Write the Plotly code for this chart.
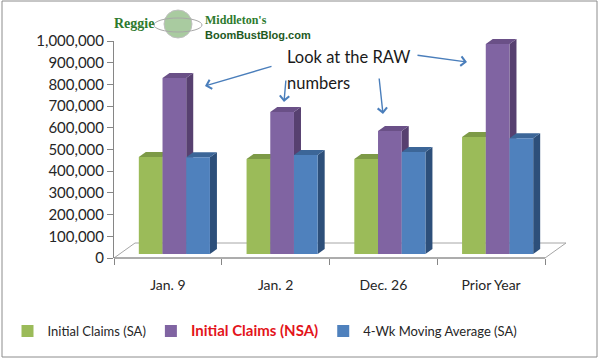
import plotly.graph_objects as go

# ---------------- data ----------------
categories = ["Jan. 9", "Jan. 2", "Dec. 26", "Prior Year"]
initial_sa = [441000, 432000, 432000, 532000]
initial_nsa = [800000, 645000, 559000, 955000]
moving_avg = [440000, 450000, 464000, 526000]
y_ticks = list(range(0, 1000001, 100000))

series_names = [
    "Initial Claims (SA)",
    "<b><span style='color:#E3141B;font-size:15px'>Initial Claims (NSA)</span></b>",
    "4-Wk Moving Average (SA)",
]
series_values = [initial_sa, initial_nsa, moving_avg]
front_colors = ["#9BBB59", "#8064A2", "#4F81BD"]
top_colors = ["#7D9A47", "#6A5087", "#3C6698"]
side_colors = ["#6E8A3A", "#574070", "#2D4F7A"]

W, H = 600, 361


def px(x):
    return x / W


def py(y):
    return 1 - y / H


# pixel geometry of the plot
X_LEFT, X_RIGHT = 114, 545          # category axis span
Y_ZERO, Y_TOP = 258, 41             # value axis labels (back wall)
BAR_ZERO, BAR_TOP = 254, 34         # front face scale
SHIFT = 6.5                         # perspective shift of bar fronts
DEPTH_X, DEPTH_Y = 7, 5             # 3-D depth in pixels

n = len(categories)
cat_px = (X_RIGHT - X_LEFT) / n
bar_w = 0.22
offsets = [-0.33 + k * bar_w for k in range(3)]
dxu = DEPTH_X / cat_px
dyu = DEPTH_Y / ((BAR_ZERO - BAR_TOP) / 1e6)

fig = go.Figure()

# empty trace so that the labelled axes (x / y) are drawn
fig.add_trace(go.Scatter(x=[], y=[], xaxis="x", yaxis="y", showlegend=False,
                         hoverinfo="skip", mode="markers"))

for k in range(3):
    fig.add_trace(go.Bar(
        x=list(range(n)), y=series_values[k], name=series_names[k],
        marker=dict(color=front_colors[k], line=dict(width=0)),
        width=bar_w, offset=offsets[k],
        xaxis="x2", yaxis="y2", hoverinfo="skip",
    ))

shapes = []
# floor
shapes.append(dict(
    type="path", xref="paper", yref="paper", layer="below",
    path=f"M{px(X_LEFT)},{py(Y_ZERO)} L{px(X_LEFT + 21)},{py(Y_ZERO - 15)} "
         f"L{px(X_RIGHT + 21)},{py(Y_ZERO - 15)} L{px(X_RIGHT)},{py(Y_ZERO)} Z",
    fillcolor="white", line=dict(color="#A6A6A6", width=1),
))
# 3-D faces derived from the data
for i in range(n):
    for k in range(3):
        v = series_values[k][i]
        x0 = i + offsets[k]
        x1 = x0 + bar_w
        shapes.append(dict(
            type="path", xref="x2", yref="y2", layer="below",
            path=f"M{x1},0 L{x1},{v} L{x1 + dxu},{v + dyu} L{x1 + dxu},{dyu} Z",
            fillcolor=side_colors[k], line=dict(width=0),
        ))
        shapes.append(dict(
            type="path", xref="x2", yref="y2", layer="below",
            path=f"M{x0},{v} L{x0 + dxu},{v + dyu} L{x1 + dxu},{v + dyu} L{x1},{v} Z",
            fillcolor=top_colors[k], line=dict(width=0),
        ))
# frame
shapes.append(dict(
    type="rect", xref="paper", yref="paper",
    x0=px(2), x1=px(597), y0=py(357), y1=py(1),
    line=dict(color="#8C8C8C", width=1), fillcolor="rgba(0,0,0,0)",
))
# logo globe
shapes.append(dict(
    type="circle", xref="paper", yref="paper",
    x0=px(164), x1=px(192), y0=py(38), y1=py(10),
    fillcolor="#A9CBA0", line=dict(color="#C0C0C0", width=1),
))
shapes.append(dict(
    type="circle", xref="paper", yref="paper",
    x0=px(154), x1=px(202), y0=py(32), y1=py(18),
    fillcolor="rgba(0,0,0,0)", line=dict(color="#A8A8A8", width=1),
))
# x axis base line (front floor edge)
shapes.append(dict(type="line", xref="paper", yref="paper", layer="below",
                   x0=px(X_LEFT), x1=px(X_RIGHT), y0=py(Y_ZERO), y1=py(Y_ZERO),
                   line=dict(color="#868686", width=1)))

annotations = []
# Callout text
annotations.append(dict(text="Look at the RAW", x=px(285), y=py(57), xref="paper", yref="paper",
                        xanchor="left", yanchor="middle", showarrow=False,
                        font=dict(family="Lato", size=16.5, color="#1A1A1A")))
annotations.append(dict(text="numbers", x=px(285), y=py(83), xref="paper", yref="paper",
                        xanchor="left", yanchor="middle", showarrow=False,
                        font=dict(family="Lato", size=16.5, color="#1A1A1A")))
# arrows (head, tail) in pixels
arrows = [((205, 86), (273, 66)), ((284, 102), (286, 79)),
          ((383, 114), (379, 77)), ((467, 62), (416, 55))]
for (hx, hy), (tx, ty) in arrows:
    annotations.append(dict(
        text="", x=px(hx), y=py(hy), xref="paper", yref="paper",
        ax=tx - hx, ay=ty - hy, showarrow=True, arrowhead=4, arrowsize=1.3,
        arrowwidth=1.4, arrowcolor="#4A7EBB",
    ))
# logo text
annotations.append(dict(text="<b>Reggie</b>", x=px(112), y=py(23), xref="paper", yref="paper",
                        xanchor="left", yanchor="middle", showarrow=False,
                        font=dict(family="Liberation Serif", size=14, color="#2E7A2E")))
annotations.append(dict(text="<b>Middleton's</b>", x=px(203), y=py(20), xref="paper", yref="paper",
                        xanchor="left", yanchor="middle", showarrow=False,
                        font=dict(family="Liberation Serif", size=12, color="#2E7A2E")))
annotations.append(dict(text="<b>BoomBustBlog.com</b>", x=px(203), y=py(35), xref="paper", yref="paper",
                        xanchor="left", yanchor="middle", showarrow=False,
                        font=dict(family="Liberation Sans Narrow, Liberation Sans", size=11, color="#1E5A1E")))

fig.update_layout(
    width=W, height=H,
    margin=dict(l=0, r=0, t=0, b=0, autoexpand=False),
    paper_bgcolor="white", plot_bgcolor="rgba(0,0,0,0)",
    font=dict(family="Lato", color="#262626"),
    barmode="group", bargap=0.34, bargroupgap=0,
    showlegend=True,
    legend=dict(orientation="h", x=px(265), xanchor="center", y=py(331), yanchor="middle",
                font=dict(family="Lato", size=13, color="#262626"),
                itemwidth=30, bgcolor="rgba(0,0,0,0)"),
    xaxis=dict(domain=[px(X_LEFT), px(X_RIGHT)], range=[-0.5, n - 0.5],
               tickvals=list(range(n)), ticktext=categories,
               ticks="outside", ticklen=14, tickcolor="rgba(0,0,0,0)",
               showline=False, showgrid=False, zeroline=False,
               tickfont=dict(family="Lato", size=14, color="#262626"),
               minor=dict(tick0=-0.5, dtick=1, ticks="outside", ticklen=6,
                          tickcolor="#868686", showgrid=False),
               anchor="y", fixedrange=True),
    yaxis=dict(domain=[py(Y_ZERO), py(Y_TOP)], range=[0, 1000000],
               tickvals=y_ticks, tickformat=",",
               ticks="outside", ticklen=6, tickcolor="#868686",
               showline=True, linecolor="#868686", linewidth=1,
               showgrid=False, zeroline=False,
               tickfont=dict(family="Lato", size=15, color="#262626"),
               anchor="x", fixedrange=True),
    xaxis2=dict(domain=[px(X_LEFT + SHIFT), px(X_RIGHT + SHIFT)], range=[-0.5, n - 0.5],
                visible=False, anchor="y2", fixedrange=True),
    yaxis2=dict(domain=[py(BAR_ZERO), py(BAR_TOP)], range=[0, 1000000],
                visible=False, anchor="x2", fixedrange=True),
    shapes=shapes,
    annotations=annotations,
)

fig.write_html("out.html", config={"displayModeBar": False},
               post_script="document.body.style.margin='0';")
